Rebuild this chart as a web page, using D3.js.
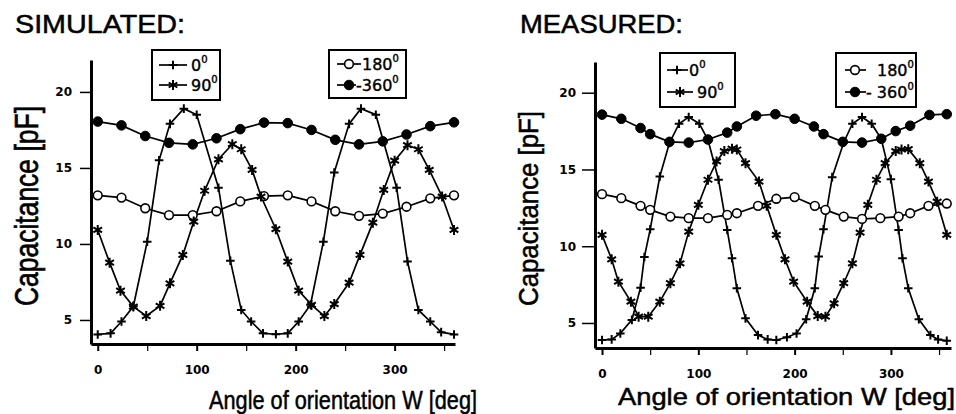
<!DOCTYPE html>
<html>
<head>
<meta charset="utf-8">
<script src="https://cdn.jsdelivr.net/npm/d3@7"></script>
<style>
  body { margin: 0; background: #fff; }
  svg { display: block; }
  .tick text { font-family: "DejaVu Sans", sans-serif; font-weight: bold; font-size: 12px; fill: #000; }
  .title { font-family: "Liberation Sans", Arial, sans-serif; fill: #000; stroke: #000; stroke-width: 0.5px; }
  .leg { font-family: "DejaVu Sans", sans-serif; font-size: 16px; fill: #000; stroke: #000; stroke-width: 0.4px; }
</style>
</head>
<body>
<svg width="956" height="414"></svg>
<script>
// ---- data (angle in deg, capacitance in pF) ----
const sim0 = [[0,4.05],[13,4.12],[24,4.9],[36,5.9],[50,10.15],[62,15.5],[73,17.9],[87,18.9],[100,18.5],
  [122,13.7],[134,8.9],[145,5.66],[155,4.9],[167,4.12],[180,4.06],[192,4.12],[203,4.9],[215,6.0],
  [228,10.15],[239,14.7],[254,17.9],[266,18.9],[281,18.5],[302,13.7],[313,8.85],[324,5.66],[336,4.9],
  [347,4.2],[360,4.05]];
const sim90 = [[0,10.92],[12,8.77],[23,6.93],[36,5.88],[49,5.26],[63,5.93],[73,7.41],[86,9.28],[97,11.47],
  [108,13.5],[122,15.57],[136,16.56],[145,16.23],[156,14.87],[165,13.12],[180,10.97],[192,8.84],[203,6.93],
  [216,5.99],[229,5.26],[239,6.05],[254,7.45],[265,9.28],[278,11.4],[289,13.55],[300,15.48],[313,16.5],
  [324,16.23],[335,14.87],[348,13.12],[360,10.92]];
const sim180 = [[0,13.2],[24,13.05],[48,12.35],[72,11.9],[96,11.9],[120,12.15],[144,12.8],[168,13.15],
  [192,13.2],[216,12.8],[240,12.15],[264,11.85],[288,12.0],[312,12.45],[336,13.0],[360,13.2]];
const sim360 = [[0,18.05],[24,17.8],[48,17.1],[72,16.65],[96,16.55],[120,16.95],[144,17.55],[168,17.98],
  [192,17.95],[216,17.5],[240,16.85],[264,16.55],[288,16.75],[312,17.2],[336,17.75],[360,18.0]];

const meas0 = [[0,3.89],[10,3.93],[19,4.32],[31,5.2],[40,7.3],[44,9.3],[50,11.1],[60,14.54],[70,16.72],
  [80,17.98],[90,18.41],[101,17.98],[110,16.93],[121,14.33],[130,11.06],[135,9.22],[140,7.26],[149,5.3],
  [162,4.21],[172,3.93],[181,3.89],[192,4.07],[202,4.32],[212,5.24],[221,7.26],[225,9.33],[230,11.1],
  [239,14.5],[251,16.76],[260,17.98],[270,18.41],[280,17.98],[290,16.98],[300,14.37],[308,11.06],
  [312,9.22],[318,7.26],[329,5.24],[341,4.21],[349,3.93],[358,3.84]];
const meas90 = [[0,10.74],[10,9.15],[17,7.69],[30,6.39],[38,5.41],[48,5.41],[60,6.39],[71,7.59],[81,8.89],
  [90,10.95],[100,12.7],[110,14.33],[119,15.52],[127,16.2],[135,16.35],[140,16.3],[149,15.41],[163,14.21],
  [171,12.63],[181,10.74],[190,9.15],[199,7.69],[213,6.39],[224,5.45],[232,5.41],[241,6.28],[251,7.59],
  [260,8.89],[268,10.89],[276,12.7],[285,14.33],[294,15.41],[305,16.2],[311,16.3],[318,16.32],
  [330,15.41],[339,14.21],[348,12.9],[358,10.74]];
const meas180 = [[0,13.39],[20,13.13],[40,12.63],[50,12.37],[71,11.93],[90,11.83],[110,11.83],[130,12.04],
  [140,12.15],[162,12.63],[181,13.09],[200,13.2],[221,12.63],[232,12.37],[251,11.93],[270,11.78],
  [289,11.83],[308,11.93],[320,12.15],[339,12.63],[358,12.78]];
const meas360 = [[0,18.57],[20,18.3],[40,17.7],[50,17.3],[70,16.8],[90,16.75],[110,16.95],[130,17.4],
  [140,17.8],[160,18.5],[180,18.6],[200,18.3],[220,17.8],[230,17.3],[250,16.8],[270,16.75],[290,17.0],
  [305,17.5],[320,17.85],[340,18.55],[358,18.6]];

const yTicks = [5, 10, 15, 20];
const xTicks = [0, 50, 100, 150, 200, 250, 300, 350];
const legendA = ["0", "90"];
const legendB = ["180", "-360"];

const svg = d3.select("svg");

const sym = {
  plus: d3.symbol(d3.symbolPlus, 26),
  star: d3.symbol(d3.symbolAsterisk, 70),
  open: d3.symbol(d3.symbolCircle, 60),
  filled: d3.symbol(d3.symbolCircle, 72)
};

function marker(g, kind, x, y) {
  const p = g.append("path")
    .attr("transform", `translate(${x},${y})`)
    .attr("d", sym[kind]())
    .attr("stroke", "#000");
  if (kind === "open") p.attr("fill", "#fff").attr("stroke-width", 1.6);
  else if (kind === "filled") p.attr("fill", "#000").attr("stroke-width", 1);
  else p.attr("fill", "none").attr("stroke-width", 2);
}

function panel(cfg) {
  const g = svg.append("g");
  const x = d3.scaleLinear().domain(cfg.xDomain).range(cfg.xRange);
  const y = d3.scaleLinear().domain(cfg.yDomain).range(cfg.yRange);

  // title
  g.append("text").attr("class", "title")
    .attr("x", cfg.titleX).attr("y", 33)
    .attr("font-size", 25)
    .attr("textLength", cfg.titleLen).attr("lengthAdjust", "spacingAndGlyphs")
    .text(cfg.title);

  // axes
  const yAxis = g.append("g")
    .attr("transform", `translate(${cfg.xRange[0]},0)`)
    .call(d3.axisLeft(y).tickValues(yTicks).tickSize(cfg.yTick).tickSizeOuter(0).tickPadding(cfg.yPad));
  yAxis.select(".domain").attr("stroke-width", 3);
  yAxis.selectAll(".tick line").attr("stroke-width", 1.5);

  const xAxis = g.append("g")
    .attr("transform", `translate(0,${cfg.yRange[0]})`)
    .call(d3.axisBottom(x).tickValues(xTicks).tickSize(7).tickSizeOuter(0).tickPadding(14)
      .tickFormat(d => d % 100 === 0 ? d : ""));
  xAxis.select(".domain").attr("stroke-width", 3);
  xAxis.selectAll(".tick line").attr("stroke-width", d => d % 100 === 0 ? 2 : 1.2);

  // series
  const line = d3.line().x(d => x(d[0])).y(d => y(d[1]));
  cfg.series.forEach(s => {
    g.append("path").datum(s.data)
      .attr("d", line).attr("fill", "none")
      .attr("stroke", "#000").attr("stroke-width", 1.7);
  });
  cfg.series.forEach(s => {
    s.data.forEach(d => marker(g, s.kind, x(d[0]), y(d[1])));
  });

  // axis titles
  g.append("text").attr("class", "title")
    .attr("x", cfg.xt.x).attr("y", cfg.xt.y)
    .attr("font-size", cfg.xt.size)
    .attr("textLength", cfg.xt.len).attr("lengthAdjust", "spacingAndGlyphs")
    .text("Angle of orientation W [deg]");
  g.append("text").attr("class", "title")
    .attr("transform", `translate(${cfg.yt.x},${cfg.yt.y}) scale(${cfg.yt.sx},1) rotate(-90)`)
    .attr("font-size", 25)
    .attr("textLength", cfg.yt.len).attr("lengthAdjust", "spacingAndGlyphs")
    .text("Capacitance [pF]");

  // legends
  cfg.legends.forEach(L => {
    g.append("rect")
      .attr("x", L.box[0]).attr("y", L.box[1])
      .attr("width", L.box[2] - L.box[0]).attr("height", L.box[3] - L.box[1])
      .attr("fill", "#fff").attr("stroke", "#000").attr("stroke-width", 2);
    L.rows.forEach(r => {
      g.append("line").attr("x1", r.x1).attr("x2", r.x2).attr("y1", r.y).attr("y2", r.y)
        .attr("stroke", "#000").attr("stroke-width", 1.7);
      marker(g, r.kind, r.m, r.y);
      const t = g.append("text").attr("class", "leg").attr("x", r.tx).attr("y", r.y + 6);
      t.append("tspan").text(r.label);
      t.append("tspan").attr("font-size", 10).attr("dy", -8).text("0");
    });
  });
}

panel({
  title: "SIMULATED:", titleX: 15, titleLen: 170,
  xDomain: [-6.8, 361], xRange: [91, 455],
  yDomain: [3.42, 22.1], yRange: [344, 60],
  yTick: 11, yPad: 8,
  series: [
    { data: sim360, kind: "filled" },
    { data: sim180, kind: "open" },
    { data: sim90, kind: "star" },
    { data: sim0, kind: "plus" }
  ],
  xt: { x: 209, y: 409, len: 268, size: 25 },
  yt: { x: 38, y: 306, len: 200, sx: 1.3 },
  legends: [
    { box: [152, 50, 220, 100], rows: [
      { kind: "plus", y: 65, x1: 159, x2: 187, m: 173, tx: 191, label: legendA[0] },
      { kind: "star", y: 85, x1: 159, x2: 187, m: 173, tx: 191, label: legendA[1] }
    ]},
    { box: [329, 50, 406, 98], rows: [
      { kind: "open", y: 64, x1: 337, x2: 361, m: 349, tx: 362, label: legendB[0] },
      { kind: "filled", y: 85, x1: 337, x2: 356, m: 349, tx: 356, label: legendB[1] }
    ]}
  ]
});

panel({
  title: "MEASURED:", titleX: 520, titleLen: 163,
  xDomain: [-7.3, 362.4], xRange: [595, 951],
  yDomain: [3.37, 22.0], yRange: [348, 62],
  yTick: 13, yPad: 6,
  series: [
    { data: meas360, kind: "filled" },
    { data: meas180, kind: "open" },
    { data: meas90, kind: "star" },
    { data: meas0, kind: "plus" }
  ],
  xt: { x: 618, y: 405, len: 337, size: 24 },
  yt: { x: 538, y: 306, len: 195, sx: 1.1 },
  legends: [
    { box: [660, 53, 735, 107], rows: [
      { kind: "plus", y: 70, x1: 667, x2: 688, m: 677, tx: 689, label: legendA[0] },
      { kind: "star", y: 92, x1: 667, x2: 693, m: 680, tx: 697, label: legendA[1] }
    ]},
    { box: [836, 53, 916, 107], rows: [
      { kind: "open", y: 70, x1: 845, x2: 866, m: 855, tx: 877, label: legendB[0] },
      { kind: "filled", y: 92, x1: 845, x2: 866, m: 855, tx: 866, label: "- 360" }
    ]}
  ]
});
</script>
</body>
</html>
